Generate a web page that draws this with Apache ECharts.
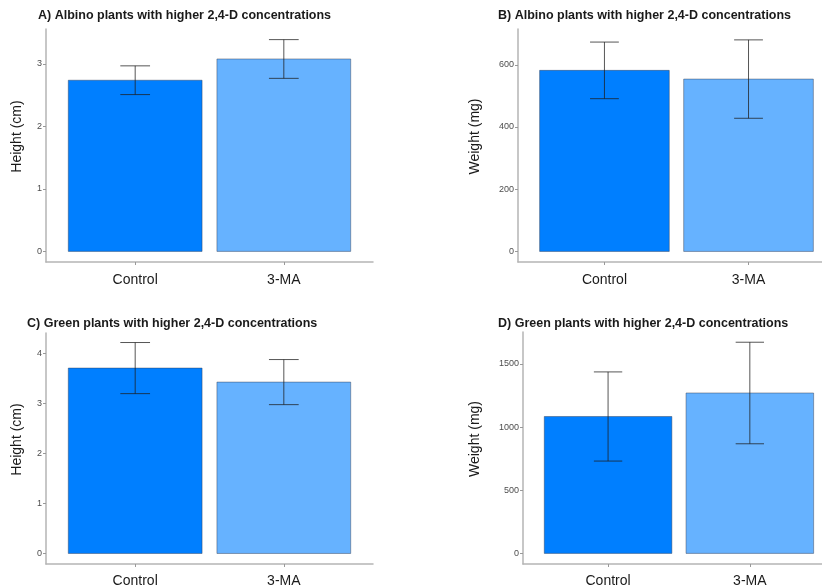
<!DOCTYPE html>
<html>
<head>
<meta charset="utf-8">
<script src="https://cdn.jsdelivr.net/npm/echarts@6/dist/echarts.min.js"></script>
<style>
  html, body { margin: 0; padding: 0; background: #ffffff; }
  #chart { width: 822px; height: 588px; }
</style>
</head>
<body>
<div id="chart"></div>
<script>
// Treatment groups shown on every panel
const categories = ['Control', '3-MA'];

// Panel A: albino plant height (cm), mean and error
const albinoHeightMean = [2.74, 3.08];
const albinoHeightErr = [0.23, 0.31];
// Panel B: albino plant weight (mg)
const albinoWeightMean = [582, 554];
const albinoWeightErr = [91, 126];
// Panel C: green plant height (cm)
const greenHeightMean = [3.70, 3.42];
const greenHeightErr = [0.51, 0.45];
// Panel D: green plant weight (mg)
const greenWeightMean = [1084, 1270];
const greenWeightErr = [353, 402];

// Y tick labels per panel
const heightTicksA = [0, 1, 2, 3];
const weightTicksB = [0, 200, 400, 600];
const heightTicksC = [0, 1, 2, 3, 4];
const weightTicksD = [0, 500, 1000, 1500];

const titles = [
  'A) Albino plants with higher 2,4-D concentrations',
  'B) Albino plants with higher 2,4-D concentrations',
  'C) Green plants with higher 2,4-D concentrations',
  'D) Green plants with higher 2,4-D concentrations'
];
const yNames = ['Height (cm)', 'Weight (mg)', 'Height (cm)', 'Weight (mg)'];

const barColors = ['#007fff', '#66b2ff'];
const axisGray = '#b5b5b5';
const FONT = 'Liberation Sans, Arial, sans-serif';

// Right-hand panels run past the page edge, so their x range stops early
const panels = [
  { mean: albinoHeightMean, err: albinoHeightErr, ticks: heightTicksA, yMin: -0.17, yMax: 3.56, xMax: 2.6,
    grid: { left: 46, top: 29, width: 327, height: 233 }, title: { left: 38, top: 9 }, nameGap: 22, labelMargin: 11 },
  { mean: albinoWeightMean, err: albinoWeightErr, ticks: weightTicksB, yMin: -34, yMax: 715, xMax: 2.51,
    grid: { left: 518, top: 29, right: 0, height: 233 }, title: { left: 498, top: 9 }, nameGap: 36, labelMargin: 11 },
  { mean: greenHeightMean, err: greenHeightErr, ticks: heightTicksC, yMin: -0.21, yMax: 4.40, xMax: 2.6,
    grid: { left: 46, top: 333, width: 327, height: 232 }, title: { left: 27, top: 317 }, nameGap: 22, labelMargin: 10 },
  { mean: greenWeightMean, err: greenWeightErr, ticks: weightTicksD, yMin: -84, yMax: 1753, xMax: 2.509,
    grid: { left: 523, top: 332, right: 0, height: 233 }, title: { left: 498, top: 317 }, nameGap: 41, labelMargin: 10 }
];

const option = {
  backgroundColor: '#ffffff',
  animation: false,
  title: panels.map((p, i) => ({
    text: titles[i],
    left: p.title.left,
    top: p.title.top,
    padding: 0,
    textStyle: { fontFamily: FONT, fontSize: 12.5, fontWeight: 'bold', color: '#1a1a1a' }
  })),
  grid: panels.map(p => Object.assign({ containLabel: false }, p.grid)),
  xAxis: panels.map((p, i) => ({
    type: 'value',
    gridIndex: i,
    min: 0.4,
    max: p.xMax,
    splitLine: { show: false },
    axisLine: { show: true, onZero: false, lineStyle: { color: axisGray, width: 1.5 } },
    axisTick: { show: true, customValues: [1, 2], length: 3, lineStyle: { color: '#999' } },
    axisLabel: {
      customValues: [1, 2],
      margin: p.labelMargin,
      fontFamily: FONT,
      fontSize: 14,
      color: '#1a1a1a',
      formatter: v => categories[Math.round(v) - 1] || ''
    }
  })),
  yAxis: panels.map((p, i) => ({
    type: 'value',
    gridIndex: i,
    min: p.yMin,
    max: p.yMax,
    name: yNames[i],
    nameLocation: 'middle',
    nameGap: p.nameGap,
    nameTextStyle: { fontFamily: FONT, fontSize: 14, color: '#1a1a1a', padding: [0, 0, 0, 18] },
    splitLine: { show: false },
    axisLine: { show: true, onZero: false, lineStyle: { color: axisGray, width: 1.5 } },
    axisTick: { show: true, customValues: p.ticks, length: 3, lineStyle: { color: '#999' } },
    axisLabel: {
      customValues: p.ticks,
      margin: 4,
      fontFamily: FONT,
      fontSize: 9,
      color: '#4d4d4d',
      formatter: v => String(v)
    }
  })),
  series: []
};

panels.forEach((p, i) => {
  const rows = categories.map((c, k) => [k + 1, p.mean[k], p.err[k]]);
  // bars: 0.9 of a category band wide
  option.series.push({
    type: 'custom',
    xAxisIndex: i,
    yAxisIndex: i,
    data: rows,
    renderItem: (params, api) => {
      const x = api.value(0);
      const y = api.value(1);
      const a = api.coord([x - 0.45, 0]);
      const b = api.coord([x + 0.45, y]);
      return {
        type: 'rect',
        shape: { x: a[0], y: b[1], width: b[0] - a[0], height: a[1] - b[1] },
        style: {
          fill: barColors[params.dataIndex],
          stroke: 'rgba(50,60,80,0.45)',
          lineWidth: 1
        }
      };
    }
  });
  // error bars: mean ± err with caps 0.2 of a band wide
  option.series.push({
    type: 'custom',
    xAxisIndex: i,
    yAxisIndex: i,
    data: rows,
    z: 5,
    renderItem: (params, api) => {
      const x = api.value(0);
      const m = api.value(1);
      const e = api.value(2);
      const top = api.coord([x, m + e]);
      const bot = api.coord([x, m - e]);
      const capL = api.coord([x - 0.1, m + e]);
      const capR = api.coord([x + 0.1, m + e]);
      const capL2 = api.coord([x - 0.1, m - e]);
      const capR2 = api.coord([x + 0.1, m - e]);
      const st = { stroke: 'rgba(30,30,30,0.75)', lineWidth: 1 };
      return {
        type: 'group',
        children: [
          { type: 'line', shape: { x1: top[0], y1: top[1], x2: bot[0], y2: bot[1] }, style: st },
          { type: 'line', shape: { x1: capL[0], y1: capL[1], x2: capR[0], y2: capR[1] }, style: st },
          { type: 'line', shape: { x1: capL2[0], y1: capL2[1], x2: capR2[0], y2: capR2[1] }, style: st }
        ]
      };
    }
  });
});

const chart = echarts.init(document.getElementById('chart'), null, { renderer: 'canvas' });
chart.setOption(option);
</script>
</body>
</html>
